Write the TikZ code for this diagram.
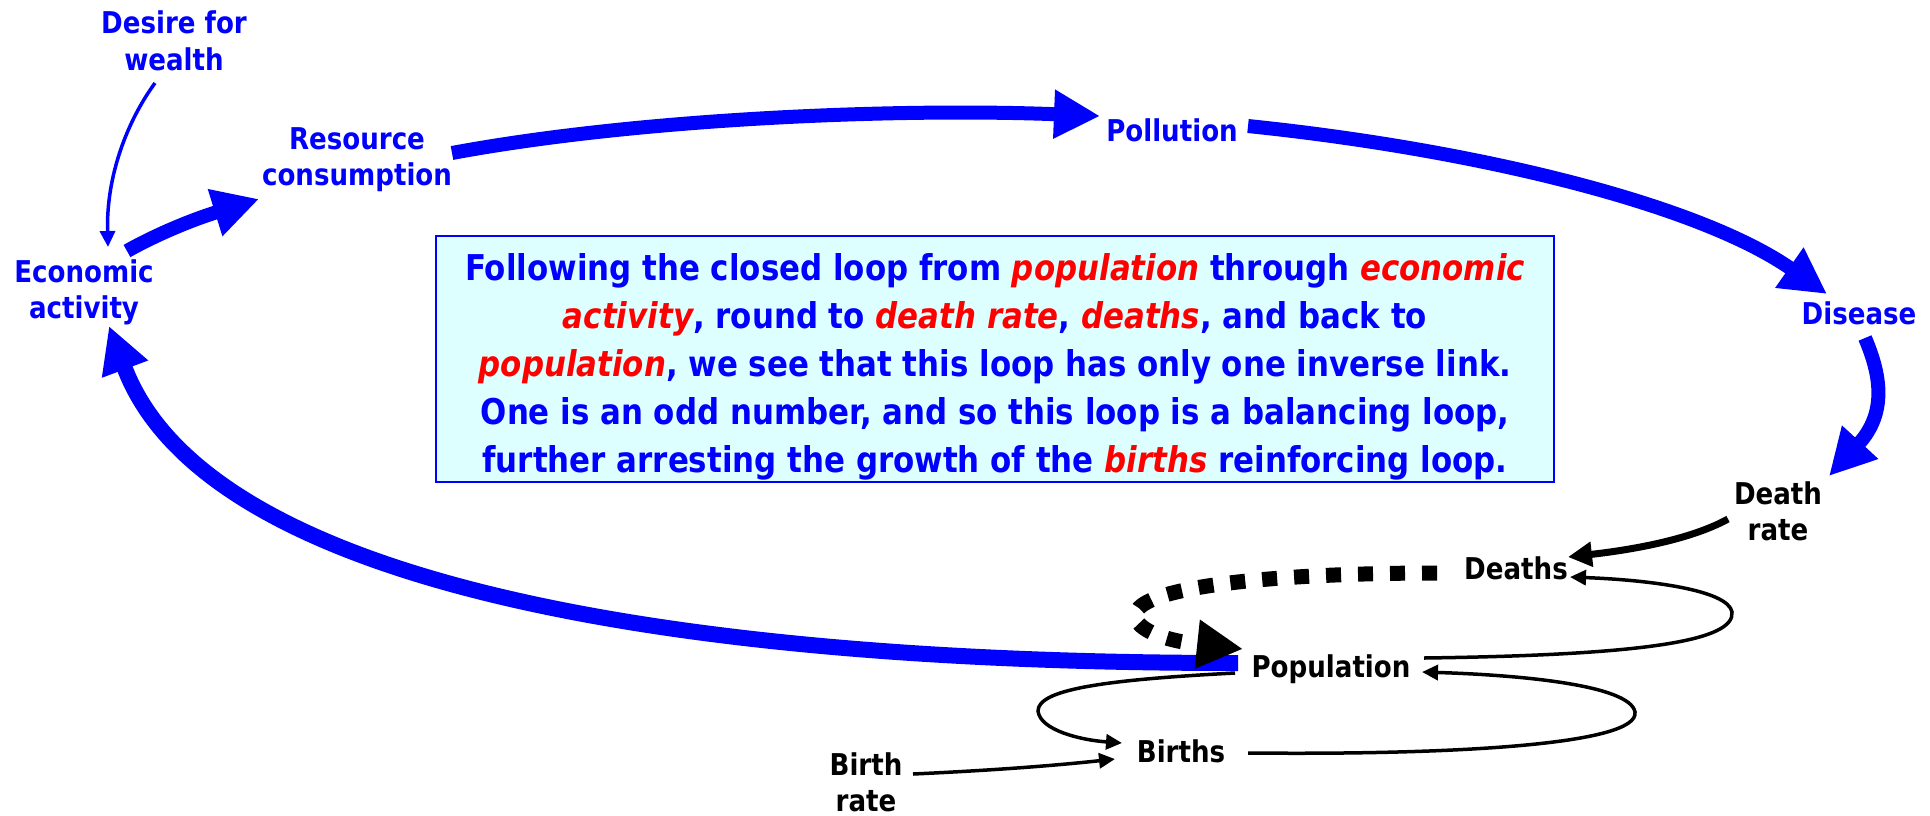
\documentclass[tikz,border=0pt]{standalone}
\usepackage{fontspec}
\setmainfont{DejaVu Sans}[FakeStretch=0.87]
\usetikzlibrary{arrows.meta}
\definecolor{dblue}{RGB}{0,0,255}
\definecolor{dred}{RGB}{255,0,0}
\definecolor{boxfill}{RGB}{221,255,255}
\newcommand\hlword[1]{{\color{dred}\itshape #1}}
\tikzset{
  lbl/.style={inner sep=0pt, align=center, font=\bfseries\fontsize{30}{36.5}\selectfont},
  bluelbl/.style={lbl, text=dblue},
  blacklbl/.style={lbl, text=black},
  bigflow/.style={draw=dblue, line width=14pt, -{Triangle[length=46pt,width=46pt]}},
  thinblue/.style={draw=dblue, line width=3.5pt, -{Triangle[length=16pt,width=15pt]}},
  thinblack/.style={draw=black, line width=3.5pt, -{Triangle[length=16pt,width=15pt]}},
  midblack/.style={draw=black, line width=7pt, -{Triangle[length=24pt,width=24pt]}},
  dashflow/.style={draw=black, line width=15pt, dash pattern=on 15pt off 17pt, -{Triangle[length=46pt,width=46pt]}},
  notebox/.style={draw=dblue, line width=2pt, fill=boxfill, minimum width=1118pt, minimum height=246pt,
    inner sep=0pt, text=dblue, align=center, font=\bfseries\fontsize{35.5}{48}\selectfont},
}
\begin{document}
\begin{tikzpicture}[x=1pt,y=-1pt]
\useasboundingbox (0,0) rectangle (1930,815);

% explanatory note (the strut on the first line lowers the text block a little)
\node[notebox] (note) at (995,359) {\rule{0pt}{42pt}Following the closed loop from \hlword{population} through \hlword{economic}\\
\hlword{activity}, round to \hlword{death rate}, \hlword{deaths}, and back to\\
\hlword{population}, we see that this loop has only one inverse link.\\
One is an odd number, and so this loop is a balancing loop,\\
further arresting the growth of the \hlword{births} reinforcing loop.};

% variables
\node[bluelbl, anchor=north] (desire) at (174,11) {Desire for\\wealth};
\node[bluelbl, anchor=north] (econ) at (84,259) {Economic\\activity};
\node[bluelbl, anchor=north] (res) at (357,127) {Resource\\consumption};
\node[bluelbl, anchor=base] (poll) at (1172,141) {Pollution};
\node[bluelbl, anchor=base] (disease) at (1859,324) {Disease};
\node[blacklbl, anchor=north] (drate) at (1778,481) {Death\\rate};
\node[blacklbl, anchor=base] (deaths) at (1516,579) {Deaths};
\node[blacklbl, anchor=base] (pop) at (1331,677) {Population};
\node[blacklbl, anchor=base] (births) at (1181,762) {Births};
\node[blacklbl, anchor=north] (brate) at (866,752) {Birth\\rate};

% economic loop
\draw[thinblue] ([shift={(-19,72)}]desire.north) .. controls (128,120) and (106,175) .. ([shift={(24,-12)}]econ.north);
\draw[bigflow] ([shift={(43,-8)}]econ.north) .. controls (150,238) and (185,222) .. ([shift={(-98,72)}]res.north);
\draw[bigflow] ([shift={(95,26)}]res.north) .. controls (640,118) and (900,108) .. ([shift={(-72,-25)}]poll.base);
\draw[bigflow] ([shift={(76,-15)}]poll.base) .. controls (1480,150) and (1700,205) .. ([shift={(-32,-30)}]disease.base);
\draw[bigflow] ([shift={(6,14)}]disease.base) .. controls (1880,373) and (1888,412) .. ([shift={(51,-5)}]drate.north);
\draw[midblack] ([shift={(-50,38)}]drate.north) .. controls (1690,540) and (1630,550) .. ([shift={(52,-22)}]deaths.base);
\draw[bigflow, line width=16pt] ([shift={(-93,-14)}]pop.base) .. controls (620,663) and (200,570) .. ([shift={(25,67)}]econ.north);
\draw[dashflow] ([shift={(-79,-6)}]deaths.base) .. controls (1285,573) and (1160,585) .. (1139,608)
  .. controls (1125,625) and (1158,640) .. ([shift={(-88,-28)}]pop.base);

% population loops
\draw[thinblack] ([shift={(93,-19)}]pop.base) .. controls (1650,655) and (1735,640) .. (1732,612)
  .. controls (1728,590) and (1650,580) .. ([shift={(54,-2)}]deaths.base);
\draw[thinblack] ([shift={(-96,-4)}]pop.base) .. controls (1100,680) and (1038,690) .. (1038,711)
  .. controls (1040,730) and (1080,740) .. ([shift={(-59,-19)}]births.base);
\draw[thinblack] ([shift={(67,-9)}]births.base) .. controls (1450,755) and (1640,745) .. (1635,712)
  .. controls (1630,685) and (1520,675) .. ([shift={(91,-5)}]pop.base);
\draw[thinblack] ([shift={(47,22)}]brate.north) .. controls (1000,770) and (1060,765) .. ([shift={(-66,-3)}]births.base);
\end{tikzpicture}
\end{document}
